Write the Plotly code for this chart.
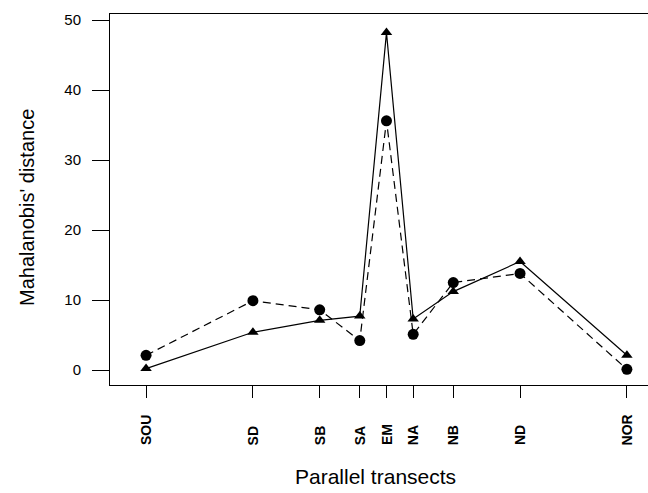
import plotly.graph_objects as go

# Data
transects = ["SOU", "SD", "SB", "SA", "EM", "NA", "NB", "ND", "NOR"]
x_pos = [-9, -5, -2.5, -1, 0, 1, 2.5, 5, 9]
series_triangle = [0.2, 5.4, 7.1, 7.7, 48.2, 7.3, 11.2, 15.5, 2.1]
series_circle = [2.1, 9.9, 8.6, 4.2, 35.6, 5.1, 12.5, 13.8, 0.1]
y_ticks = [0, 10, 20, 30, 40, 50]

FONT = "Liberation Sans, Arial, Helvetica, sans-serif"

fig = go.Figure()
fig.add_trace(go.Scatter(
    x=x_pos, y=series_triangle, mode="lines+markers",
    line=dict(color="black", width=1.2),
    marker=dict(symbol="triangle-up", size=10, color="black"),
    showlegend=False, cliponaxis=False,
))
fig.add_trace(go.Scatter(
    x=x_pos, y=series_circle, mode="lines+markers",
    line=dict(color="black", width=1.2, dash="8px,5px"),
    marker=dict(symbol="circle", size=11, color="black"),
    showlegend=False, cliponaxis=False,
))

W, H = 648, 493
ml, mr, mt, mb = 110, 0, 14, 108
plot_h = H - mt - mb
plot_w = W - ml - mr

annotations = []
label_y = (H - mb - 447) / plot_h
for name, xv in zip(transects, x_pos):
    annotations.append(dict(
        x=xv, y=label_y, xref="x", yref="paper", text="<b>" + name + "</b>",
        showarrow=False, textangle=-90, xanchor="center", yanchor="bottom",
        font=dict(family=FONT, size=14, color="black"),
    ))

annotations.append(dict(
    x=(375 - ml) / plot_w, y=(H - mb - 477) / plot_h, xref="paper", yref="paper",
    text="Parallel transects", showarrow=False, xanchor="center", yanchor="middle",
    font=dict(family=FONT, size=21, color="black"),
))
annotations.append(dict(
    x=(27 - ml) / plot_w, y=(H - mb - 208) / plot_h, xref="paper", yref="paper",
    text="Mahalanobis' distance", showarrow=False, textangle=-90,
    xanchor="center", yanchor="middle",
    font=dict(family=FONT, size=20, color="black"),
))

fig.update_layout(
    width=W, height=H,
    margin=dict(l=ml, r=mr, t=mt, b=mb),
    plot_bgcolor="white", paper_bgcolor="white",
    font=dict(family=FONT, color="black"),
    annotations=annotations,
    xaxis=dict(
        range=[-10.35, 9.79], tickvals=x_pos, ticktext=[""] * len(x_pos),
        ticks="outside", ticklen=12, tickcolor="black", tickwidth=1,
        showline=True, linecolor="black", linewidth=1, mirror=True,
        showgrid=False, zeroline=False,
    ),
    yaxis=dict(
        range=[-2.14, 50.86], tickvals=y_ticks,
        ticks="outside", ticklen=17, tickcolor="black", tickwidth=1,
        showline=True, linecolor="black", linewidth=1, mirror=False,
        showgrid=False, zeroline=False,
        tickfont=dict(family=FONT, size=15, color="black"),
        ticklabelstandoff=8,
    ),
)

fig.write_html(
    "out.html",
    config={"displayModeBar": False, "staticPlot": True},
    post_script="document.body.style.margin='0px';document.body.style.overflow='hidden';",
)
